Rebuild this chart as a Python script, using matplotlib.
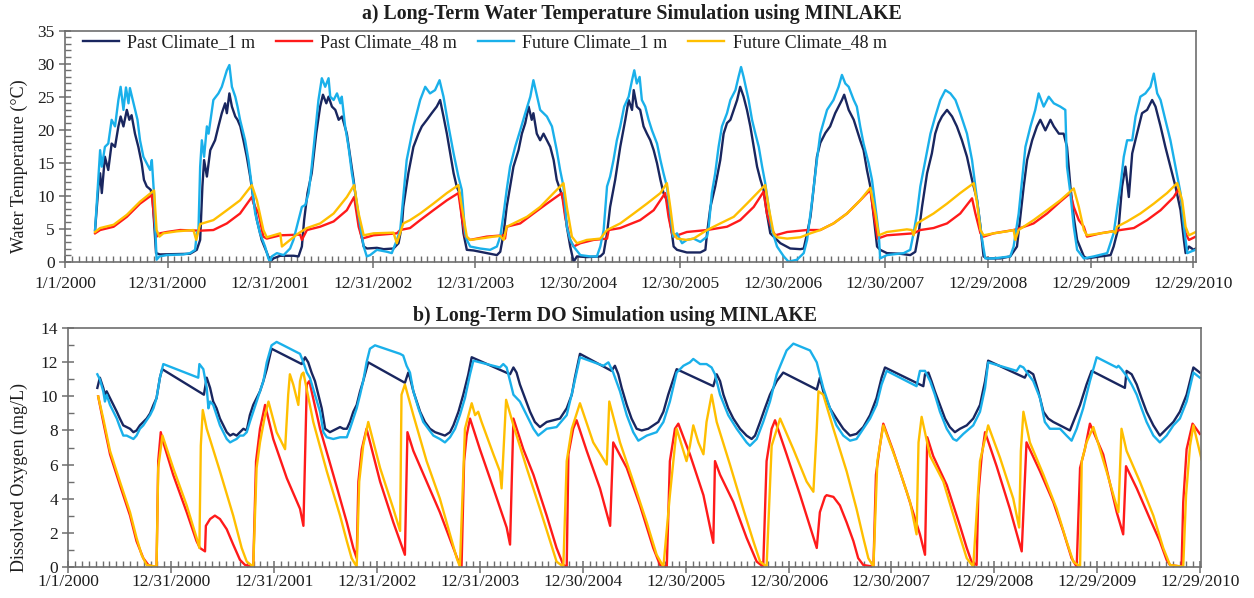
import matplotlib
matplotlib.use("Agg")
import matplotlib.pyplot as plt
import numpy as np
from matplotlib.ticker import MultipleLocator, FixedLocator

plt.rcParams['font.family'] = ['Liberation Serif', 'DejaVu Serif']

# ---------------------------------------------------------------------------
# MINLAKE output, (day since 1/1/2000, value)
# ---------------------------------------------------------------------------
# a) water temperature (deg C)
temp_past_1m = [
    (107, 4.8), (119, 11.4), (125, 13.4), (131, 10.4), (142, 15.9), (154, 13.9), (166, 17.9), (178, 17.4),
    (190, 20.5), (198, 22.0), (208, 20.5), (220, 23.0), (229, 21.5), (237, 22.2), (249, 19.4), (261, 17.4),
    (273, 14.9), (281, 12.4), (291, 11.4), (305, 10.9), (312, 9.3), (324, 1.3), (338, 1.1), (445, 1.2),
    (457, 1.5), (469, 1.8), (481, 3.3), (489, 11.4), (495, 15.4), (505, 12.9), (517, 16.9), (534, 18.4),
    (546, 20.5), (558, 22.5), (570, 24.0), (576, 22.5), (585, 25.5), (594, 23.5), (606, 22.0), (614, 21.5),
    (624, 20.5), (635, 18.4), (647, 15.9), (659, 12.9), (671, 9.3), (683, 6.3), (700, 3.3), (719, 1.3),
    (730, 0.0), (742, 0.5), (766, 0.9), (814, 0.9), (831, 0.8), (843, 2.3), (851, 6.3), (863, 10.4),
    (878, 13.4), (894, 19.4), (908, 23.5), (918, 25.3), (930, 24.0), (938, 25.0), (950, 23.5), (962, 23.0),
    (974, 21.5), (986, 22.0), (1003, 19.4), (1015, 15.9), (1027, 12.4), (1039, 8.3), (1053, 4.3), (1063, 2.3),
    (1075, 2.0), (1110, 2.1), (1134, 1.9), (1169, 2.0), (1187, 2.8), (1199, 5.5), (1204, 8.3), (1222, 13.4),
    (1240, 17.4), (1258, 19.4), (1270, 20.5), (1288, 21.5), (1305, 22.5), (1323, 23.5), (1335, 24.5), (1347, 22.0),
    (1359, 19.4), (1371, 16.4), (1383, 13.4), (1394, 11.4), (1404, 10.4), (1418, 4.3), (1430, 1.8), (1454, 1.7),
    (1501, 1.3), (1537, 1.0), (1549, 1.5), (1561, 4.3), (1572, 8.3), (1584, 11.4), (1596, 14.4), (1614, 16.9),
    (1626, 19.4), (1638, 21.0), (1650, 23.5), (1661, 21.5), (1667, 22.5), (1679, 19.4), (1691, 18.4), (1703, 19.4),
    (1715, 18.4), (1727, 17.4), (1739, 15.4), (1750, 12.4), (1762, 10.9), (1774, 9.3), (1786, 5.3), (1798, 2.3),
    (1810, 0.0), (1822, 0.8), (1857, 0.7), (1905, 0.8), (1917, 1.3), (1929, 4.3), (1940, 8.3), (1958, 12.4),
    (1976, 17.4), (1994, 21.5), (2006, 24.5), (2018, 23.0), (2024, 26.0), (2035, 23.5), (2047, 23.0), (2059, 20.5),
    (2071, 19.4), (2083, 18.4), (2095, 16.9), (2107, 14.9), (2119, 12.4), (2130, 10.4), (2142, 9.3), (2160, 4.3),
    (2166, 2.3), (2178, 1.8), (2213, 1.4), (2261, 1.4), (2279, 1.8), (2285, 4.3), (2297, 8.3), (2314, 11.4),
    (2332, 15.4), (2344, 19.4), (2356, 21.0), (2368, 21.5), (2380, 23.0), (2392, 24.5), (2403, 26.5), (2415, 25.0),
    (2427, 23.0), (2439, 20.5), (2451, 17.4), (2463, 14.4), (2475, 12.4), (2486, 10.9), (2498, 7.3), (2510, 4.3),
    (2522, 3.8), (2546, 2.8), (2581, 2.0), (2617, 1.9), (2629, 2.0), (2641, 4.3), (2653, 6.8), (2665, 11.4),
    (2676, 15.9), (2688, 18.0), (2706, 19.5), (2723, 20.5), (2741, 22.5), (2753, 23.5), (2765, 24.5), (2773, 25.3),
    (2789, 23.0), (2807, 21.5), (2830, 18.4), (2842, 16.9), (2854, 13.9), (2866, 11.4), (2878, 6.8), (2890, 2.3),
    (2901, 1.8), (2925, 1.3), (2973, 1.2), (3008, 1.0), (3026, 1.5), (3038, 4.3), (3050, 8.3), (3068, 13.4),
    (3085, 16.4), (3097, 19.4), (3109, 21.0), (3121, 22.0), (3139, 23.0), (3157, 22.0), (3174, 20.5), (3192, 18.4),
    (3210, 15.9), (3228, 12.4), (3246, 9.3), (3258, 5.3), (3269, 0.8), (3281, 0.5), (3329, 0.5), (3364, 0.8),
    (3388, 2.3), (3400, 6.8), (3412, 11.4), (3424, 15.4), (3442, 18.4), (3459, 20.5), (3471, 21.5), (3489, 19.9),
    (3507, 21.5), (3519, 20.5), (3537, 19.4), (3554, 19.4), (3566, 17.4), (3578, 11.4), (3590, 6.8), (3602, 3.3),
    (3626, 0.8), (3637, 0.5), (3685, 0.8), (3721, 1.0), (3732, 2.3), (3750, 5.3), (3762, 11.4), (3774, 14.4),
    (3786, 9.8), (3798, 16.4), (3815, 19.4), (3833, 22.5), (3851, 23.0), (3869, 24.5), (3881, 23.5), (3899, 20.5),
    (3916, 17.4), (3934, 14.4), (3952, 11.4), (3970, 7.8), (3982, 3.3), (3988, 1.3), (4000, 2.3), (4017, 1.8),
    (4024, 2.0),
]

temp_past_48m = [
    (107, 4.3), (125, 4.8), (173, 5.3), (220, 6.8), (267, 8.8), (309, 10.1), (320, 5.3), (326, 3.8),
    (338, 4.3), (362, 4.5), (410, 4.8), (481, 4.7), (528, 4.8), (576, 5.8), (623, 7.3), (665, 9.8),
    (671, 8.8), (689, 7.3), (706, 3.8), (718, 3.5), (766, 4.0), (837, 4.1), (843, 3.3), (861, 4.8),
    (908, 5.3), (956, 6.1), (1003, 7.8), (1029, 9.8), (1045, 5.3), (1057, 3.5), (1098, 4.0), (1181, 4.3),
    (1193, 4.8), (1228, 5.1), (1264, 6.3), (1311, 7.8), (1359, 9.3), (1400, 10.4), (1412, 6.8), (1424, 3.8),
    (1442, 3.3), (1501, 3.8), (1561, 4.0), (1566, 3.5), (1572, 5.3), (1620, 5.8), (1667, 7.3), (1715, 8.8),
    (1768, 10.4), (1780, 6.8), (1798, 3.3), (1810, 2.3), (1834, 2.8), (1881, 3.3), (1929, 3.5), (1935, 4.8),
    (1976, 5.1), (2047, 6.3), (2095, 7.8), (2136, 10.4), (2148, 6.8), (2160, 4.3), (2166, 3.8), (2213, 4.5),
    (2285, 4.8), (2356, 5.3), (2403, 6.3), (2451, 8.3), (2486, 10.6), (2498, 7.3), (2516, 4.8), (2528, 4.0),
    (2570, 4.5), (2641, 4.8), (2688, 4.8), (2735, 5.8), (2783, 7.3), (2830, 9.3), (2866, 10.9), (2878, 7.3),
    (2892, 3.5), (2925, 4.0), (3020, 4.3), (3044, 4.8), (3091, 5.1), (3139, 5.8), (3186, 7.3), (3228, 9.6),
    (3240, 7.3), (3258, 4.3), (3269, 3.8), (3305, 4.3), (3376, 4.8), (3400, 5.1), (3447, 5.8), (3495, 7.3),
    (3542, 9.1), (3578, 10.4), (3590, 8.3), (3608, 6.3), (3626, 5.3), (3637, 3.8), (3685, 4.3), (3756, 4.8),
    (3804, 5.1), (3851, 6.3), (3899, 7.8), (3946, 9.8), (3964, 11.1), (3976, 8.3), (3988, 4.3), (4000, 3.3),
    (4024, 3.8),
]

temp_future_1m = [
    (107, 4.8), (125, 16.9), (131, 14.4), (142, 17.4), (154, 17.9), (166, 21.5), (178, 20.5), (190, 24.5),
    (198, 26.5), (208, 23.0), (217, 26.4), (226, 24.0), (231, 26.3), (241, 24.5), (249, 23.0), (258, 21.5),
    (267, 18.4), (279, 15.9), (291, 14.9), (303, 13.9), (309, 15.4), (315, 11.4), (317, 10.4), (322, 4.3),
    (326, 0.3), (336, 0.8), (362, 1.0), (421, 1.1), (445, 1.3), (463, 1.8), (469, 4.3), (475, 4.8),
    (481, 14.4), (487, 18.4), (495, 15.9), (505, 20.5), (511, 19.4), (528, 24.5), (546, 25.5), (558, 26.5),
    (576, 29.0), (585, 29.8), (594, 26.5), (606, 25.0), (614, 23.5), (623, 21.5), (641, 18.4), (653, 15.4),
    (665, 11.4), (677, 7.3), (694, 4.3), (712, 2.3), (724, 0.5), (730, 0.0), (736, 0.8), (754, 1.3),
    (778, 1.0), (801, 2.0), (813, 3.3), (831, 6.3), (843, 8.3), (855, 8.6), (867, 10.4), (878, 14.4),
    (890, 19.4), (902, 24.5), (914, 27.8), (926, 26.5), (938, 27.8), (944, 25.0), (956, 24.5), (968, 25.5),
    (980, 24.0), (985, 25.0), (997, 20.5), (1009, 17.4), (1021, 13.4), (1033, 10.4), (1051, 5.3), (1063, 2.3),
    (1074, 0.8), (1086, 1.0), (1110, 1.8), (1146, 1.5), (1163, 1.3), (1181, 3.3), (1193, 4.8), (1216, 15.4),
    (1240, 20.5), (1264, 24.5), (1282, 26.5), (1299, 25.5), (1317, 26.0), (1333, 27.5), (1347, 25.0), (1365, 20.5),
    (1383, 16.4), (1400, 12.9), (1412, 10.9), (1424, 4.3), (1430, 3.3), (1442, 2.3), (1477, 2.0), (1513, 1.8),
    (1537, 2.3), (1549, 3.8), (1561, 7.3), (1572, 10.9), (1584, 14.4), (1602, 17.4), (1620, 19.9), (1638, 22.5),
    (1656, 25.0), (1667, 27.5), (1691, 23.0), (1715, 22.0), (1733, 20.5), (1750, 16.9), (1762, 13.9), (1774, 11.4),
    (1786, 5.3), (1798, 3.3), (1810, 2.3), (1834, 1.0), (1869, 0.8), (1893, 0.8), (1905, 2.3), (1917, 4.8),
    (1929, 11.4), (1940, 12.9), (1952, 15.4), (1964, 18.4), (1976, 20.5), (1990, 23.5), (2006, 25.0), (2018, 27.5),
    (2026, 29.0), (2035, 27.0), (2045, 28.0), (2053, 24.5), (2065, 23.5), (2077, 21.5), (2089, 19.9), (2107, 17.9),
    (2119, 15.4), (2130, 13.4), (2142, 11.4), (2154, 7.3), (2164, 3.8), (2178, 4.3), (2196, 2.8), (2213, 3.3),
    (2237, 3.5), (2261, 3.0), (2285, 3.8), (2291, 5.3), (2302, 10.4), (2314, 13.4), (2326, 17.4), (2338, 20.5),
    (2356, 22.5), (2368, 24.5), (2386, 26.0), (2397, 28.0), (2406, 29.5), (2415, 28.0), (2433, 24.5), (2445, 21.5),
    (2457, 19.4), (2469, 17.4), (2481, 14.4), (2492, 11.9), (2504, 8.3), (2516, 4.8), (2534, 2.3), (2558, 0.8),
    (2575, 0.0), (2605, 0.3), (2629, 1.3), (2641, 3.3), (2659, 9.3), (2676, 15.4), (2688, 19.4), (2712, 23.0),
    (2735, 24.5), (2753, 26.5), (2765, 28.3), (2777, 27.0), (2789, 26.5), (2807, 24.5), (2818, 23.5), (2830, 20.5),
    (2842, 17.9), (2860, 14.9), (2872, 12.4), (2884, 8.3), (2896, 4.3), (2901, 0.5), (2925, 1.0), (2985, 1.3),
    (3008, 1.8), (3020, 4.3), (3032, 7.3), (3044, 11.4), (3062, 15.4), (3080, 19.4), (3097, 22.0), (3115, 24.5),
    (3133, 26.0), (3151, 25.5), (3169, 24.5), (3186, 22.5), (3210, 19.4), (3228, 15.4), (3240, 11.4), (3252, 7.3),
    (3264, 3.3), (3275, 0.5), (3305, 0.5), (3364, 0.8), (3376, 2.3), (3394, 7.3), (3406, 12.4), (3418, 17.4),
    (3436, 20.5), (3453, 23.0), (3465, 25.5), (3483, 23.5), (3501, 25.0), (3519, 24.0), (3542, 23.5), (3560, 23.0),
    (3566, 14.4), (3578, 10.4), (3590, 5.3), (3602, 1.8), (3626, 0.5), (3661, 0.8), (3709, 1.3), (3732, 4.3),
    (3756, 11.4), (3768, 15.9), (3780, 18.4), (3798, 18.4), (3810, 22.0), (3827, 25.0), (3845, 25.5), (3863, 26.5),
    (3875, 28.5), (3887, 25.5), (3899, 24.5), (3916, 21.5), (3934, 18.4), (3952, 14.4), (3970, 10.4), (3982, 5.3),
    (3994, 1.3), (4005, 1.5), (4023, 1.8),
]

temp_future_48m = [
    (107, 4.5), (125, 5.1), (173, 5.6), (220, 7.1), (267, 9.1), (317, 10.8), (326, 4.8), (336, 3.8),
    (350, 4.3), (398, 4.6), (457, 4.8), (467, 3.3), (481, 5.7), (528, 6.3), (576, 7.8), (623, 9.3),
    (665, 11.6), (683, 9.3), (706, 4.8), (718, 3.7), (766, 4.3), (772, 2.3), (801, 3.3), (831, 4.3),
    (861, 5.1), (908, 5.8), (956, 7.3), (1003, 9.8), (1029, 11.6), (1045, 7.3), (1063, 4.0), (1098, 4.3),
    (1169, 4.4), (1181, 2.8), (1204, 5.8), (1228, 6.3), (1264, 7.3), (1311, 8.8), (1359, 10.4), (1400, 11.6),
    (1412, 8.3), (1430, 3.8), (1442, 3.3), (1477, 3.5), (1525, 3.8), (1549, 3.9), (1561, 3.3), (1572, 5.3),
    (1596, 5.8), (1644, 6.8), (1691, 8.3), (1739, 10.4), (1774, 11.9), (1786, 8.3), (1804, 3.8), (1822, 2.8),
    (1857, 3.3), (1905, 3.5), (1929, 4.8), (1976, 5.8), (2024, 7.3), (2071, 8.8), (2119, 10.4), (2142, 11.9),
    (2154, 8.3), (2166, 4.3), (2178, 3.5), (2213, 3.3), (2237, 3.5), (2285, 4.8), (2332, 5.8), (2380, 6.8),
    (2427, 8.8), (2475, 10.9), (2492, 11.6), (2504, 8.3), (2522, 4.3), (2534, 3.7), (2570, 3.5), (2617, 3.7),
    (2653, 4.3), (2688, 4.8), (2735, 5.8), (2783, 7.3), (2830, 9.3), (2866, 11.2), (2884, 7.3), (2896, 4.0),
    (2925, 4.5), (2996, 4.9), (3014, 4.8), (3020, 4.0), (3032, 5.8), (3091, 7.3), (3139, 8.8), (3186, 10.4),
    (3234, 11.9), (3246, 8.8), (3258, 4.8), (3269, 4.0), (3305, 4.3), (3352, 4.6), (3376, 4.8), (3382, 3.3),
    (3394, 4.8), (3447, 6.3), (3495, 7.8), (3542, 9.3), (3590, 11.1), (3608, 8.3), (3626, 4.8), (3637, 4.0),
    (3685, 4.3), (3732, 4.6), (3738, 4.3), (3744, 5.3), (3780, 6.1), (3827, 7.3), (3875, 8.8), (3922, 10.4),
    (3958, 11.9), (3976, 9.3), (3988, 5.3), (4000, 4.0), (4024, 4.5),
]

# b) dissolved oxygen (mg/L)
do_past_1m = [
    (103, 10.5), (112, 11.1), (124, 10.5), (130, 10.1), (136, 10.3), (148, 9.9), (160, 9.5), (172, 9.1),
    (183, 8.7), (195, 8.3), (207, 8.2), (219, 8.1), (231, 7.9), (242, 8.0), (254, 8.3), (266, 8.5),
    (278, 8.7), (290, 9.0), (302, 9.5), (313, 9.9), (325, 11.1), (333, 11.6), (481, 10.1), (491, 11.1),
    (503, 10.5), (514, 9.7), (526, 9.3), (538, 8.7), (550, 8.3), (562, 7.9), (574, 7.7), (585, 7.8),
    (597, 7.7), (609, 7.9), (621, 8.1), (633, 8.0), (644, 8.9), (656, 9.5), (668, 9.9), (680, 10.3),
    (692, 10.9), (704, 11.6), (721, 12.8), (828, 11.9), (840, 12.3), (851, 12.0), (863, 11.4), (875, 10.9),
    (887, 10.1), (899, 9.3), (911, 8.1), (928, 7.9), (940, 8.0), (952, 8.1), (964, 8.2), (976, 8.1),
    (988, 8.1), (999, 8.5), (1011, 9.1), (1023, 9.5), (1035, 10.3), (1046, 10.9), (1064, 12.0), (1194, 10.8),
    (1206, 11.4), (1212, 11.1), (1224, 10.3), (1236, 9.7), (1248, 9.1), (1265, 8.5), (1283, 8.1), (1301, 7.9),
    (1319, 7.8), (1336, 7.7), (1354, 7.9), (1366, 8.3), (1384, 9.1), (1401, 10.1), (1419, 11.3), (1431, 12.3),
    (1567, 11.3), (1579, 11.7), (1590, 11.4), (1602, 10.7), (1620, 9.9), (1638, 9.1), (1655, 8.5), (1673, 8.2),
    (1697, 8.5), (1721, 8.6), (1744, 8.7), (1768, 9.3), (1786, 10.1), (1797, 11.1), (1815, 12.5), (1927, 11.5),
    (1939, 11.8), (1951, 11.3), (1963, 10.5), (1981, 9.5), (1998, 8.7), (2016, 8.1), (2034, 8.0), (2057, 8.1),
    (2075, 8.3), (2093, 8.5), (2111, 9.1), (2128, 10.1), (2140, 10.7), (2158, 11.6), (2288, 10.6), (2300, 11.3),
    (2312, 10.9), (2324, 10.1), (2341, 9.3), (2359, 8.7), (2383, 8.1), (2406, 7.7), (2424, 7.5), (2436, 7.7),
    (2454, 8.5), (2471, 9.3), (2489, 10.1), (2513, 10.9), (2536, 11.4), (2655, 10.4), (2666, 11.1), (2678, 10.3),
    (2702, 9.3), (2725, 8.7), (2749, 8.1), (2773, 7.7), (2796, 7.8), (2820, 8.2), (2844, 8.9), (2867, 9.9),
    (2885, 11.1), (2897, 11.7), (3033, 10.6), (3039, 11.3), (3051, 11.4), (3062, 10.9), (3074, 10.3), (3092, 9.5),
    (3110, 8.7), (3127, 8.2), (3145, 7.9), (3163, 8.1), (3187, 8.3), (3210, 8.7), (3234, 9.5), (3252, 10.9),
    (3263, 12.1), (3393, 11.1), (3405, 11.5), (3423, 11.3), (3441, 10.3), (3459, 9.1), (3476, 8.7), (3494, 8.5),
    (3518, 8.3), (3553, 8.0), (3565, 8.5), (3589, 9.5), (3612, 10.7), (3630, 11.5), (3748, 10.5), (3754, 11.5),
    (3772, 11.3), (3790, 10.7), (3807, 9.9), (3825, 9.1), (3849, 8.3), (3872, 7.7), (3896, 8.1), (3920, 8.5),
    (3943, 9.1), (3967, 10.1), (3991, 11.7), (4014, 11.4),
]

do_past_48m = [
    (106, 10.0), (124, 8.5), (148, 6.6), (183, 4.8), (219, 3.0), (242, 1.5), (266, 0.5), (284, 0.1),
    (302, 0.0), (313, 0.0), (319, 6.2), (328, 7.9), (337, 7.3), (372, 5.4), (420, 3.2), (455, 1.5),
    (467, 1.1), (485, 0.9), (488, 2.4), (503, 2.8), (520, 3.0), (538, 2.8), (562, 2.2), (585, 1.3),
    (609, 0.4), (627, 0.1), (656, 0.0), (666, 6.2), (680, 8.1), (698, 9.5), (727, 7.5), (775, 5.2),
    (822, 3.4), (834, 2.4), (846, 10.7), (855, 10.9), (893, 8.1), (940, 5.4), (988, 2.6), (1011, 1.1),
    (1023, 0.5), (1029, 5.0), (1041, 6.9), (1058, 8.1), (1106, 5.0), (1153, 2.6), (1194, 0.7), (1203, 7.9),
    (1224, 6.8), (1271, 5.0), (1318, 3.2), (1366, 1.1), (1384, 0.3), (1395, 0.0), (1404, 6.2), (1413, 7.7),
    (1425, 8.7), (1460, 6.9), (1508, 4.6), (1555, 2.3), (1567, 1.3), (1579, 8.7), (1614, 6.9), (1650, 5.4),
    (1697, 3.0), (1732, 1.1), (1756, 0.1), (1768, 0.0), (1774, 6.6), (1791, 8.1), (1803, 8.6), (1839, 6.8),
    (1886, 4.6), (1922, 2.4), (1933, 7.3), (1981, 5.8), (2028, 3.6), (2075, 1.1), (2099, 0.1), (2123, 0.0),
    (2134, 6.2), (2152, 8.1), (2164, 8.4), (2205, 6.6), (2253, 4.2), (2288, 1.4), (2294, 6.2), (2312, 5.4),
    (2359, 3.8), (2406, 1.7), (2442, 0.3), (2465, 0.0), (2477, 6.2), (2495, 8.1), (2507, 8.6), (2548, 6.6),
    (2596, 4.2), (2655, 1.1), (2666, 3.2), (2684, 4.1), (2690, 4.2), (2714, 4.1), (2737, 3.6), (2761, 2.6),
    (2785, 1.5), (2802, 0.5), (2820, 0.1), (2856, 0.0), (2865, 5.4), (2879, 7.1), (2891, 8.4), (2926, 6.8),
    (2974, 4.4), (3021, 1.9), (3039, 0.7), (3047, 7.6), (3068, 6.5), (3116, 4.8), (3163, 2.4), (3187, 1.1),
    (3204, 0.3), (3222, 0.1), (3228, 4.2), (3240, 6.5), (3252, 7.9), (3293, 5.9), (3340, 3.4), (3382, 0.9),
    (3399, 7.3), (3447, 5.6), (3494, 3.8), (3529, 2.1), (3559, 0.5), (3577, 0.0), (3589, 5.8), (3606, 6.9),
    (3624, 8.4), (3671, 6.6), (3719, 3.2), (3742, 1.9), (3752, 5.9), (3790, 4.6), (3837, 2.8), (3872, 1.5),
    (3896, 0.4), (3908, 0.1), (3949, 0.0), (3955, 3.8), (3967, 6.9), (3988, 8.4), (4014, 7.8),
]

do_future_1m = [
    (103, 11.3), (112, 11.0), (124, 10.3), (130, 9.7), (136, 10.1), (148, 9.5), (160, 9.1), (172, 8.7),
    (183, 8.2), (195, 7.7), (207, 7.7), (219, 7.6), (231, 7.5), (242, 7.7), (254, 8.1), (266, 8.3),
    (278, 8.6), (290, 8.9), (302, 9.3), (313, 9.9), (325, 11.1), (337, 11.9), (461, 11.1), (465, 11.9),
    (479, 11.6), (491, 10.5), (497, 9.3), (503, 9.7), (514, 9.5), (526, 8.9), (538, 8.3), (550, 7.9),
    (562, 7.5), (574, 7.3), (585, 7.4), (597, 7.5), (609, 7.7), (621, 7.7), (633, 7.9), (644, 8.5),
    (656, 9.1), (668, 9.7), (680, 10.3), (692, 10.9), (704, 12.0), (721, 13.0), (739, 13.2), (763, 13.0),
    (798, 12.7), (822, 12.5), (834, 12.0), (846, 11.4), (857, 11.1), (875, 10.1), (893, 9.1), (905, 7.9),
    (917, 7.6), (940, 7.5), (964, 7.6), (988, 7.6), (999, 8.1), (1011, 8.7), (1023, 9.3), (1035, 10.1),
    (1046, 10.9), (1058, 12.0), (1070, 12.8), (1088, 13.0), (1177, 12.5), (1188, 12.4), (1200, 11.8), (1212, 11.4),
    (1224, 10.3), (1242, 9.3), (1259, 8.5), (1277, 8.1), (1295, 7.7), (1318, 7.5), (1336, 7.3), (1354, 7.6),
    (1372, 8.1), (1389, 8.9), (1407, 9.9), (1425, 11.3), (1437, 12.1), (1531, 11.7), (1543, 11.9), (1555, 11.7),
    (1567, 10.9), (1579, 10.1), (1602, 9.7), (1626, 8.9), (1650, 8.1), (1667, 7.7), (1697, 8.1), (1732, 8.2),
    (1768, 8.9), (1791, 10.5), (1815, 12.3), (1898, 11.8), (1916, 12.0), (1933, 11.4), (1957, 10.3), (1981, 8.9),
    (2004, 7.9), (2022, 7.4), (2052, 7.7), (2087, 7.9), (2111, 8.5), (2134, 9.7), (2158, 11.4), (2182, 11.8),
    (2205, 12.0), (2217, 12.2), (2241, 11.9), (2264, 11.9), (2282, 11.7), (2294, 11.3), (2312, 10.1), (2341, 8.9),
    (2371, 8.1), (2406, 7.3), (2418, 7.1), (2442, 7.5), (2465, 8.5), (2489, 9.7), (2513, 11.3), (2548, 12.7),
    (2572, 13.1), (2631, 12.7), (2655, 12.0), (2678, 10.5), (2702, 9.3), (2725, 8.3), (2749, 7.7), (2773, 7.4),
    (2796, 7.5), (2820, 8.1), (2844, 8.7), (2867, 9.5), (2885, 10.7), (2903, 11.5), (3009, 10.6), (3021, 11.5),
    (3039, 11.5), (3057, 10.9), (3074, 10.1), (3092, 9.1), (3116, 8.1), (3139, 7.5), (3151, 7.4), (3175, 7.8),
    (3210, 8.3), (3234, 9.1), (3252, 10.5), (3263, 12.0), (3364, 11.5), (3376, 11.8), (3388, 11.7), (3405, 11.3),
    (3423, 10.9), (3447, 9.9), (3464, 8.5), (3482, 8.1), (3518, 8.1), (3541, 7.7), (3559, 7.4), (3577, 8.1),
    (3600, 9.3), (3624, 10.9), (3648, 12.3), (3719, 11.7), (3725, 11.8), (3736, 11.6), (3754, 11.2), (3772, 10.7),
    (3790, 10.1), (3807, 9.3), (3825, 8.5), (3849, 7.7), (3872, 7.3), (3896, 7.7), (3920, 8.3), (3943, 8.7),
    (3967, 9.7), (3991, 11.4), (4014, 11.1),
]

do_future_48m = [
    (106, 10.0), (124, 8.7), (148, 6.8), (183, 5.0), (219, 3.2), (242, 1.7), (260, 0.7), (278, 0.1),
    (313, 0.0), (319, 5.8), (334, 7.7), (372, 5.8), (420, 3.6), (455, 1.7), (465, 1.1), (470, 7.1),
    (477, 9.2), (491, 8.1), (538, 5.6), (585, 3.0), (615, 1.1), (633, 0.3), (656, 0.0), (668, 5.8),
    (680, 7.3), (698, 8.9), (710, 9.7), (739, 7.9), (763, 7.1), (769, 6.9), (780, 10.1), (786, 11.3),
    (798, 10.7), (810, 9.9), (816, 9.5), (822, 10.9), (828, 11.3), (834, 11.4), (869, 8.5), (917, 5.6),
    (964, 3.0), (988, 1.5), (1005, 0.5), (1023, 0.0), (1032, 5.0), (1046, 7.1), (1064, 8.5), (1106, 5.8),
    (1153, 3.4), (1177, 2.1), (1182, 10.1), (1194, 10.7), (1224, 8.9), (1271, 6.2), (1318, 4.0), (1354, 1.9),
    (1378, 0.5), (1389, 0.0), (1407, 8.1), (1431, 9.6), (1443, 8.9), (1454, 9.1), (1466, 8.5), (1508, 6.6),
    (1531, 5.6), (1537, 4.6), (1553, 9.8), (1579, 8.3), (1626, 5.8), (1673, 3.4), (1709, 1.5), (1732, 0.3),
    (1756, 0.0), (1768, 6.2), (1786, 8.1), (1815, 9.6), (1862, 7.3), (1910, 6.0), (1919, 9.7), (1957, 7.3),
    (2004, 5.0), (2052, 2.6), (2087, 0.7), (2111, 0.0), (2134, 4.2), (2158, 8.1), (2193, 6.2), (2205, 7.1),
    (2217, 8.3), (2235, 7.3), (2253, 6.6), (2264, 8.5), (2282, 10.1), (2300, 8.5), (2347, 6.0), (2394, 3.4),
    (2430, 1.5), (2454, 0.3), (2477, 0.0), (2495, 7.1), (2525, 8.7), (2572, 6.9), (2619, 5.0), (2643, 4.4),
    (2655, 8.1), (2661, 10.3), (2678, 10.1), (2714, 8.1), (2761, 5.6), (2796, 3.4), (2820, 1.7), (2838, 0.5),
    (2856, 0.0), (2870, 6.2), (2891, 8.3), (2938, 6.2), (2986, 3.8), (3009, 1.9), (3016, 7.3), (3027, 8.8),
    (3057, 6.5), (3104, 5.0), (3151, 2.4), (3187, 0.5), (3210, 0.0), (3234, 6.2), (3263, 8.3), (3305, 6.4),
    (3352, 4.0), (3373, 2.3), (3379, 6.8), (3388, 9.1), (3411, 7.3), (3459, 5.4), (3506, 3.4), (3541, 1.5),
    (3565, 0.3), (3589, 0.0), (3595, 6.2), (3612, 7.3), (3636, 8.2), (3683, 5.6), (3725, 3.2), (3736, 8.1),
    (3754, 6.8), (3801, 5.0), (3849, 3.0), (3884, 1.1), (3908, 0.1), (3955, 0.0), (3965, 4.2), (3979, 7.1),
    (3991, 8.3), (4020, 6.3),
]

date_labels = ["1/1/2000", "12/31/2000", "12/31/2001", "12/31/2002", "12/31/2003", "12/30/2004",
               "12/30/2005", "12/30/2006", "12/30/2007", "12/29/2008", "12/29/2009", "12/29/2010"]

series_names = ["Past Climate_1 m", "Past Climate_48 m", "Future Climate_1 m", "Future Climate_48 m"]
series_colors = ["#19265f", "#ff1a1a", "#1ab0ea", "#ffbf00"]

# ---------------------------------------------------------------------------
W, H = 1254, 598
fig = plt.figure(figsize=(W / 100, H / 100), dpi=100)


def px_axes(left, top, right, bottom):
    return fig.add_axes([left / W, 1 - bottom / H, (right - left) / W, (bottom - top) / H])


ax_t = px_axes(65, 30.7, 1195.7, 261.7)
ax_d = px_axes(68.3, 328.3, 1201, 566.7)

spine_col = "#6e6e6e"
text_col = "#1e1e1e"


def style(ax, xmax, ymax, ymajor, xpad):
    ax.set_xlim(0, xmax)
    ax.set_ylim(0, ymax)
    majors = [i * 365 for i in range(len(date_labels))]
    ax.xaxis.set_major_locator(FixedLocator(majors))
    ax.set_xticklabels(date_labels)
    minors = [m for m in np.arange(0, xmax, 365 / 15) if min(abs(m - mj) for mj in majors) > 1]
    ax.xaxis.set_minor_locator(FixedLocator(minors))
    ax.yaxis.set_major_locator(MultipleLocator(ymajor))
    ax.yaxis.set_minor_locator(MultipleLocator(1))
    for s in ax.spines.values():
        s.set_color(spine_col)
        s.set_linewidth(1.2)
    ax.tick_params(axis='both', which='major', direction='inout', length=9, width=1.1,
                   color=spine_col, labelsize=12.5, labelcolor=text_col)
    ax.tick_params(axis='both', which='minor', direction='in', length=4, width=1.0, color=spine_col)
    ax.tick_params(axis='x', which='major', pad=xpad)
    ax.tick_params(axis='y', which='major', pad=3)


style(ax_t, 4024, 35, 5, 6)
style(ax_d, 4018, 14, 2, 1)

lw = 1.7
for ax, groups in ((ax_t, (temp_past_1m, temp_past_48m, temp_future_1m, temp_future_48m)),
                   (ax_d, (do_past_1m, do_past_48m, do_future_1m, do_future_48m))):
    for data, name, col in zip(groups, series_names, series_colors):
        d, v = zip(*data)
        ax.plot(d, v, color=col, lw=lw, label=name, solid_joinstyle='round')

ax_t.legend(ncol=4, frameon=False, loc='upper left', bbox_to_anchor=(0.016, 0.985),
            borderaxespad=0, borderpad=0, fontsize=13, handlelength=2.0,
            handletextpad=0.45, columnspacing=1.15, labelcolor=text_col)

fig.text(632 / W, 1 - 14 / H, "a) Long-Term Water Temperature Simulation using MINLAKE",
         ha='center', va='center', fontsize=14.3, fontweight='bold', color=text_col)
fig.text(615 / W, 1 - 316 / H, "b) Long-Term DO Simulation using MINLAKE",
         ha='center', va='center', fontsize=14.3, fontweight='bold', color=text_col)

fig.text(19 / W, 1 - 166 / H, "Water Temperature (\u00b0C)", rotation=90,
         ha='center', va='center', fontsize=13, color=text_col)
fig.text(19 / W, 1 - 477 / H, "Dissolved Oxygen (mg/L)", rotation=90,
         ha='center', va='center', fontsize=13, color=text_col)

fig.savefig("out.png", dpi=100, facecolor="white")
